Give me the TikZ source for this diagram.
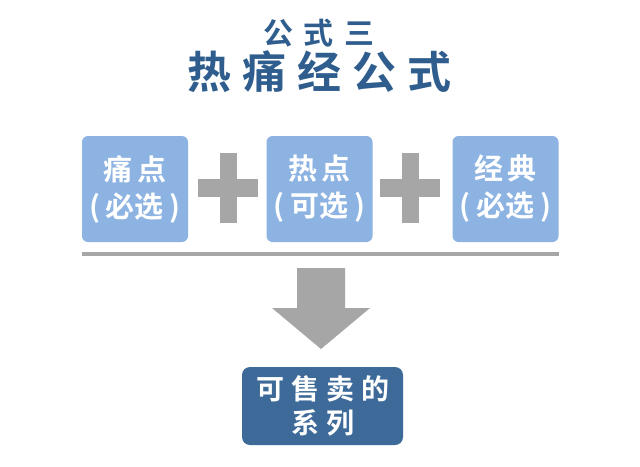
\documentclass[tikz,border=0pt]{standalone}
\usepackage{fontspec}
\newfontfamily\cjk{Noto Sans CJK SC Bold}
\definecolor{titleblue}{HTML}{2F5E8E}
\definecolor{lightblue}{HTML}{8DB3E2}
\definecolor{darkblue}{HTML}{3D6A98}
\definecolor{plusgray}{HTML}{A6A6A6}
\tikzset{
  choice/.style={fill=lightblue, rounded corners=6pt, minimum width=106pt, minimum height=106pt, inner sep=0pt, text=white, font=\cjk\fontsize{29}{37}\selectfont, align=center},
  result/.style={fill=darkblue, rounded corners=8pt, minimum width=161pt, minimum height=78pt, inner sep=0pt, text=white, font=\cjk\fontsize{28}{34}\selectfont, align=center},
}
\newcommand{\gp}{\hspace{5pt}}
\newcommand{\gq}{\hspace{7pt}}
\begin{document}
\begin{tikzpicture}[x=1pt,y=-1pt]
\useasboundingbox (0,0) rectangle (640,466);
\fill[white] (0,0) rectangle (640,466);
% titles
\node[text=titleblue, font=\cjk\fontsize{30}{30}\selectfont] (t1) at (319,33) {公\hspace{11pt}式\hspace{11pt}三};
\node[text=titleblue, font=\cjk\fontsize{44}{44}\selectfont] (t2) at (319,72) {热\hspace{11pt}痛\hspace{11pt}经\hspace{11pt}公\hspace{11pt}式};
% boxes
\node[choice] (b1) at (135,189) {痛\gp 点\\(\hspace{6pt}必选\hspace{6pt})};
\node[choice] (b2) at (319.5,189) {热\gp 点\\(\hspace{6pt}可选\hspace{6pt})};
\node[choice] (b3) at (505.5,189) {经\gp 典\\(\hspace{6pt}必选\hspace{6pt})};
% plus signs
\coordinate (p1) at (228,188);
\coordinate (p2) at (410,188);
\foreach \p in {p1,p2}{
  \fill[plusgray] ([xshift=-30pt,yshift=9pt]\p) rectangle ([xshift=30pt,yshift=-9pt]\p);
  \fill[plusgray] ([xshift=-8.5pt,yshift=35pt]\p) rectangle ([xshift=8.5pt,yshift=-35pt]\p);
}
% line
\coordinate (la) at (82,254);
\coordinate (lb) at (559,254);
\draw[plusgray, line width=4pt] (la) -- (lb);
% result box and arrow
\node[result] (r) at (322.5,406) {可\gq 售\gq 卖\gq 的\\系\gq 列};
\fill[plusgray] (297,268) -- (345,268) -- (345,308) -- (370,308) -- (321,349) -- (272,308) -- (297,308) -- cycle;
\end{tikzpicture}
\end{document}
